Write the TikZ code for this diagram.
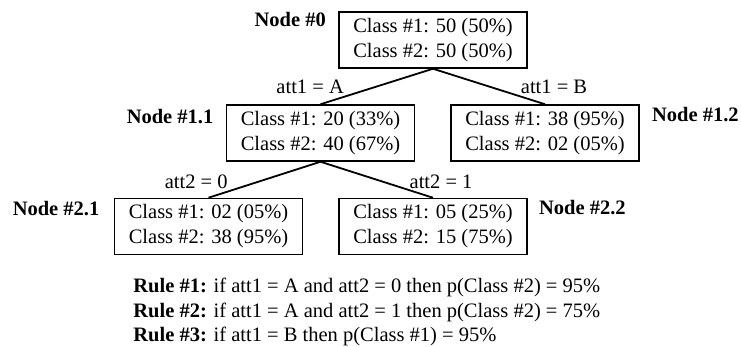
\documentclass[tikz,border=0pt]{standalone}
\usepackage{fontspec}
\setmainfont{Liberation Serif}
\usetikzlibrary{positioning}

\begin{document}
\begin{tikzpicture}[x=0.5pt,y=-0.5pt,
  font=\fontsize{10.25}{12.5}\selectfont,
  classbox/.style={draw,line width=0.75pt,align=center,minimum width=94pt,minimum height=28pt,inner sep=2pt},
  nodelbl/.style={inner sep=0pt,font=\fontsize{10.25}{12.5}\selectfont\bfseries},
  edgelbl/.style={inner sep=0pt},
  branch/.style={line width=0.9pt}]
\useasboundingbox (0,0) rectangle (741,347);
% the tree
\node[classbox] (n0) at (433,40) {Class \#1: 50 (50\%)\\Class \#2: 50 (50\%)};
\node[classbox] (n11) at (320.5,133) {Class \#1: 20 (33\%)\\Class \#2: 40 (67\%)};
\node[classbox] (n12) at (545,133) {Class \#1: 38 (95\%)\\Class \#2: 02 (05\%)};
\node[classbox] (n21) at (208.5,226.5) {Class \#1: 02 (05\%)\\Class \#2: 38 (95\%)};
\node[classbox] (n22) at (433,226.5) {Class \#1: 05 (25\%)\\Class \#2: 15 (75\%)};
\draw[branch] (n0.south) -- node[edgelbl,left=16pt] {att1 = A} (n11.north);
\draw[branch] (n0.south) -- node[edgelbl,right=15.5pt] {att1 = B} (n12.north);
\draw[branch] (n11.south) -- node[edgelbl,left=18pt,yshift=-1.2pt] {att2 = 0} (n21.north);
\draw[branch] (n11.south) -- node[edgelbl,right=16pt,yshift=-1pt] {att2 = 1} (n22.north);
% node names
\node[nodelbl,left=6pt of n0.north west,yshift=-4pt] (l0) {Node \#0};
\node[nodelbl,left=6pt of n11.north west,yshift=-6pt] (l11) {Node \#1.1};
\node[nodelbl,right=6pt of n12.north east,yshift=-5pt] (l12) {Node \#1.2};
\node[nodelbl,left=7pt of n21.north west,yshift=-5.5pt] (l21) {Node \#2.1};
\node[nodelbl,right=5.5pt of n22.north east,yshift=-5pt] (l22) {Node \#2.2};
% rules
\node[anchor=west,align=left,inner sep=0pt,font=\fontsize{10.25}{12.25}\selectfont] (rules) at (133,312)
  {\textbf{Rule \#1:} if att1 = A and att2 = 0 then p(Class \#2) = 95\%\\
   \textbf{Rule \#2:} if att1 = A and att2 = 1 then p(Class \#2) = 75\%\\
   \textbf{Rule \#3:} if att1 = B then p(Class \#1) = 95\%};
\end{tikzpicture}
\end{document}
